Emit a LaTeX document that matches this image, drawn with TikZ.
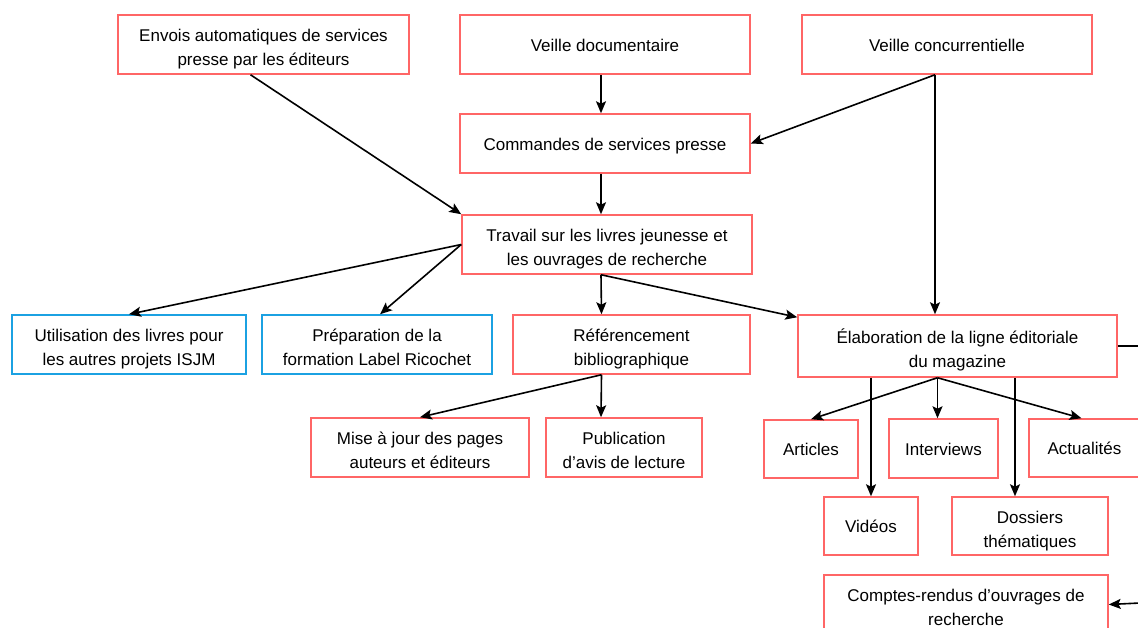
\documentclass[tikz,border=0pt]{standalone}
\usepackage{fontspec}
\setmainfont{Liberation Sans}
\usetikzlibrary{arrows.meta}
\definecolor{rouge}{HTML}{FF6666}
\definecolor{bleu}{HTML}{1BA1E2}
\newcommand{\lh}{\rule{0pt}{22pt}}
\tikzset{
    boite/.style={draw=rouge, line width=1.5pt, minimum height=59pt, inner sep=0pt, align=center,
        execute at begin node={\rule{0pt}{17pt}}, execute at end node={\rule[-3.8pt]{0pt}{3.8pt}}},
    boitebleue/.style={boite, draw=bleu},
    fleche/.style={-{Stealth[length=12pt, width=10pt, inset=2.5pt]}, line width=1.6pt}
}

\begin{document}
\begin{tikzpicture}[x=1pt, y=-1pt, font=\fontsize{17}{24}\selectfont]
    \useasboundingbox (0,0) rectangle (1138,627);
    % Top row
    \node[boite, minimum width=291pt] (envois) at (263.5,44.5) {\lh Envois automatiques de services\\presse par les éditeurs};
    \node[boite, minimum width=290pt] (veilledoc) at (605,44.5) {Veille documentaire};
    \node[boite, minimum width=290pt] (veilleconc) at (947,44.5) {Veille concurrentielle};
    \node[boite, minimum width=290pt] (commandes) at (605,143.5) {Commandes de services presse};
    \node[boite, minimum width=290pt] (travail) at (607,244.5) {\lh Travail sur les livres jeunesse et\\les ouvrages de recherche};
    % Middle row
    \node[boitebleue, minimum width=234pt] (utilisation) at (129,344.5) {\lh Utilisation des livres pour\\les autres projets ISJM};
    \node[boitebleue, minimum width=230pt] (preparation) at (377,344.5) {\lh Préparation de la\\formation Label Ricochet};
    \node[boite, minimum width=237pt] (refbib) at (631.5,344.5) {\lh Référencement\\bibliographique};
    \node[boite, minimum width=319pt, minimum height=62pt] (elaboration) at (957.5,346) {\lh Élaboration de la ligne éditoriale\\du magazine};
    % Bottom rows
    \node[boite, minimum width=218pt] (majpages) at (420,447.5) {\lh Mise à jour des pages\\auteurs et éditeurs};
    \node[boite, minimum width=156pt] (publication) at (624,447.5) {\lh Publication\\d’avis de lecture};
    \node[boite, minimum width=94pt, minimum height=58pt] (articles) at (811,449) {Articles};
    \node[boite, minimum width=109pt] (interviews) at (943.5,448.5) {Interviews};
    \node[boite, minimum width=111pt, minimum height=58pt] (actualites) at (1084.5,448) {Actualités};
    \node[boite, minimum width=94pt, minimum height=58pt] (videos) at (871,526) {Vidéos};
    \node[boite, minimum width=156pt, minimum height=58pt] (dossiers) at (1030,526) {\lh Dossiers\\thématiques};
    \node[boite, minimum width=284pt] (comptes) at (966,604.5) {\lh Comptes-rendus d’ouvrages de\\recherche};
    \coordinate (depart) at ([xshift=-12pt]veilleconc.south);
    \coordinate (dosshaut) at ([xshift=-15pt]dossiers.north);
    \coordinate (bordhaut) at (1140,346);
    \coordinate (bordbas) at (1140,603);
    % Draw connectors
    \draw[fleche] ([xshift=-13pt]envois.south) -- (travail.north west);
    \draw[fleche] ([xshift=-4pt]veilledoc.south) -- ([xshift=-4pt]commandes.north);
    \draw[fleche] ([xshift=-4pt]commandes.south) -- ([xshift=-6pt]travail.north);
    \draw[fleche] (depart) -- (commandes.east);
    \draw[fleche] (depart) -- (depart |- elaboration.north);
    \draw[fleche] (travail.west) -- (utilisation.north);
    \draw[fleche] (travail.west) -- ([xshift=3pt]preparation.north);
    \draw[fleche] ([xshift=-6pt]travail.south) -- ([xshift=-30pt]refbib.north);
    \draw[fleche] ([xshift=-6pt]travail.south) -- ([yshift=-3pt]elaboration.north west);
    \draw[fleche] ([xshift=-30pt]refbib.south) -- (majpages.north);
    \draw[fleche] ([xshift=-30pt]refbib.south) -- ([xshift=-23pt]publication.north);
    \draw[fleche] ([xshift=-20pt]elaboration.south) -- (articles.north);
    \draw[fleche] ([xshift=-20pt]elaboration.south) -- ([xshift=-6pt]interviews.north);
    \draw[fleche] ([xshift=-20pt]elaboration.south) -- ([xshift=-3pt]actualites.north);
    \draw[fleche] (elaboration.south -| videos.north) -- (videos.north);
    \draw[fleche] (elaboration.south -| dosshaut) -- (dosshaut);
    \draw[line width=1.6pt] (elaboration.east) -- (bordhaut);
    \draw[fleche] (bordbas) -- (comptes.east);
\end{tikzpicture}
\end{document}
